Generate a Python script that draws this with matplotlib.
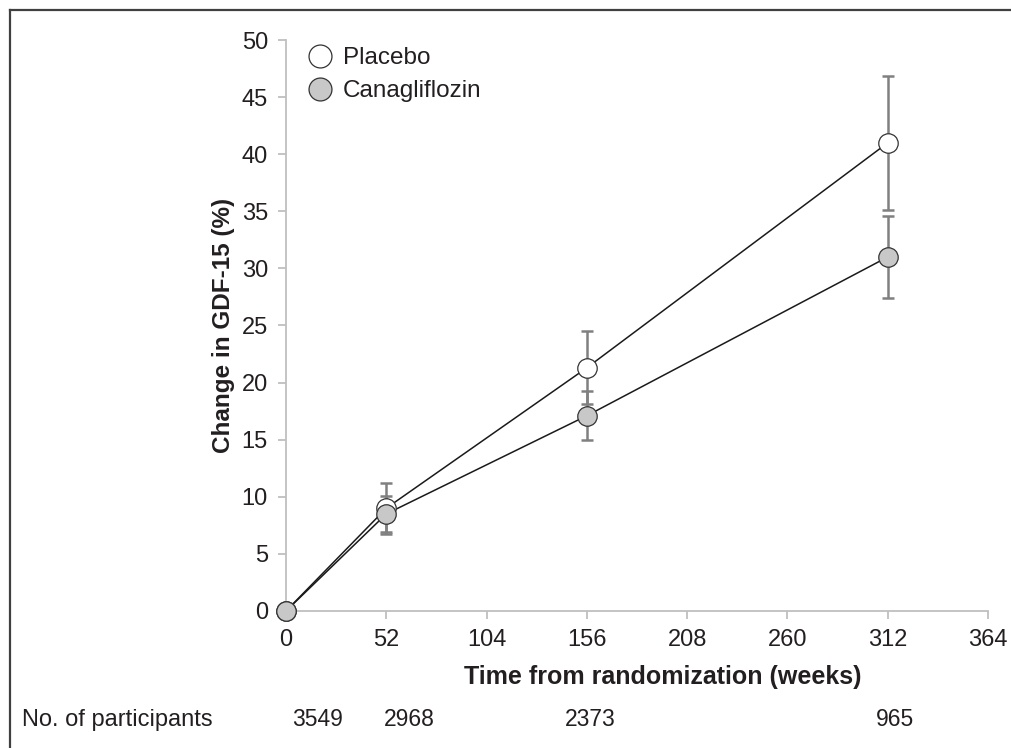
import matplotlib.pyplot as plt
from matplotlib.lines import Line2D

plt.rcParams['font.family'] = ['Liberation Sans', 'DejaVu Sans']

# Data
weeks = [0, 52, 156, 312]
placebo = [0, 9.0, 21.3, 41.0]
placebo_err = [0, 2.25, 3.2, 5.85]
cana = [0, 8.5, 17.1, 31.0]
cana_err = [0, 1.6, 2.15, 3.6]
participants = ['3549', '2968', '2373', '965']
participants_x = [16.5, 64, 157.5, 315.5]  # label positions (weeks axis)

text_col = '#231f20'
axis_col = '#bfbfbf'

fig = plt.figure(figsize=(10.11, 7.48), dpi=100)
ax = fig.add_axes([0.2829, 0.1832, 0.6944, 0.7633])

# error bars behind the markers
ax.errorbar(weeks, placebo, yerr=placebo_err, fmt='none', ecolor='#808080',
            elinewidth=1.8, capsize=4.2, capthick=1.8, zorder=1)
ax.errorbar(weeks, cana, yerr=cana_err, fmt='none', ecolor='#808080',
            elinewidth=1.8, capsize=4.2, capthick=1.8, zorder=1)

# lines and markers
ax.plot(weeks, placebo, '-', color='#1a1a1a', lw=1.1, zorder=2)
ax.plot(weeks, cana, '-', color='#1a1a1a', lw=1.1, zorder=2)
ax.plot(weeks, placebo, 'o', ms=14, mfc='white', mec='#333333', mew=0.9, zorder=3)
ax.plot(weeks, cana, 'o', ms=14, mfc='#c8c8c8', mec='#333333', mew=0.9, zorder=3)

# Axes styling
ax.set_xlim(0, 364)
ax.set_ylim(0, 50)
ax.set_xticks(range(0, 365, 52))
ax.set_yticks(range(0, 51, 5))
for s in ['top', 'right']:
    ax.spines[s].set_visible(False)
for s in ['left', 'bottom']:
    ax.spines[s].set_color(axis_col)
    ax.spines[s].set_linewidth(1.3)
ax.tick_params(axis='both', direction='out', length=6, width=1.3, color=axis_col,
               labelsize=17, labelcolor=text_col, pad=7)
for art in ax.lines:
    art.set_clip_on(False)
for c in ax.collections:
    c.set_clip_on(False)

ax.set_xlabel('Time from randomization (weeks)', fontsize=18, fontweight='bold',
              color=text_col, labelpad=10)
ax.xaxis.set_label_coords(0.537, -0.095)
ax.set_ylabel('Change in GDF-15 (%)', fontsize=17.5, fontweight='bold',
              color=text_col, labelpad=5)

# Legend
handles = [
    Line2D([], [], ls='none', marker='o', ms=16.5, mfc='white', mec='#333333', mew=0.9),
    Line2D([], [], ls='none', marker='o', ms=16.5, mfc='#c8c8c8', mec='#333333', mew=0.9),
]
leg = ax.legend(handles, ['Placebo', 'Canagliflozin'], loc='upper left',
                bbox_to_anchor=(-0.007, 1.026), frameon=False, fontsize=17.5,
                handletextpad=0.25, labelspacing=0.45, handlelength=1.4)
for t in leg.get_texts():
    t.set_color(text_col)

# Number at risk row
fig.text(22 / 1011, 1 - 720 / 748, 'No. of participants', fontsize=17,
         color=text_col, ha='left', va='center')
for xv, lab in zip(participants_x, participants):
    ax.annotate(lab, xy=(xv, 0), xycoords=('data', 'axes fraction'),
                xytext=(0, -(720 - 611)), textcoords='offset pixels',
                ha='center', va='center', fontsize=16.5, color=text_col,
                annotation_clip=False)

# Outer frame (top and left edges)
fig.add_artist(Line2D([9.5 / 1011, 9.5 / 1011], [0, 1 - 9.5 / 748],
                      transform=fig.transFigure, color='#404040', lw=1.6))
fig.add_artist(Line2D([9.5 / 1011, 1], [1 - 9.5 / 748, 1 - 9.5 / 748],
                      transform=fig.transFigure, color='#404040', lw=1.6))

fig.savefig('out.png', dpi=100)
